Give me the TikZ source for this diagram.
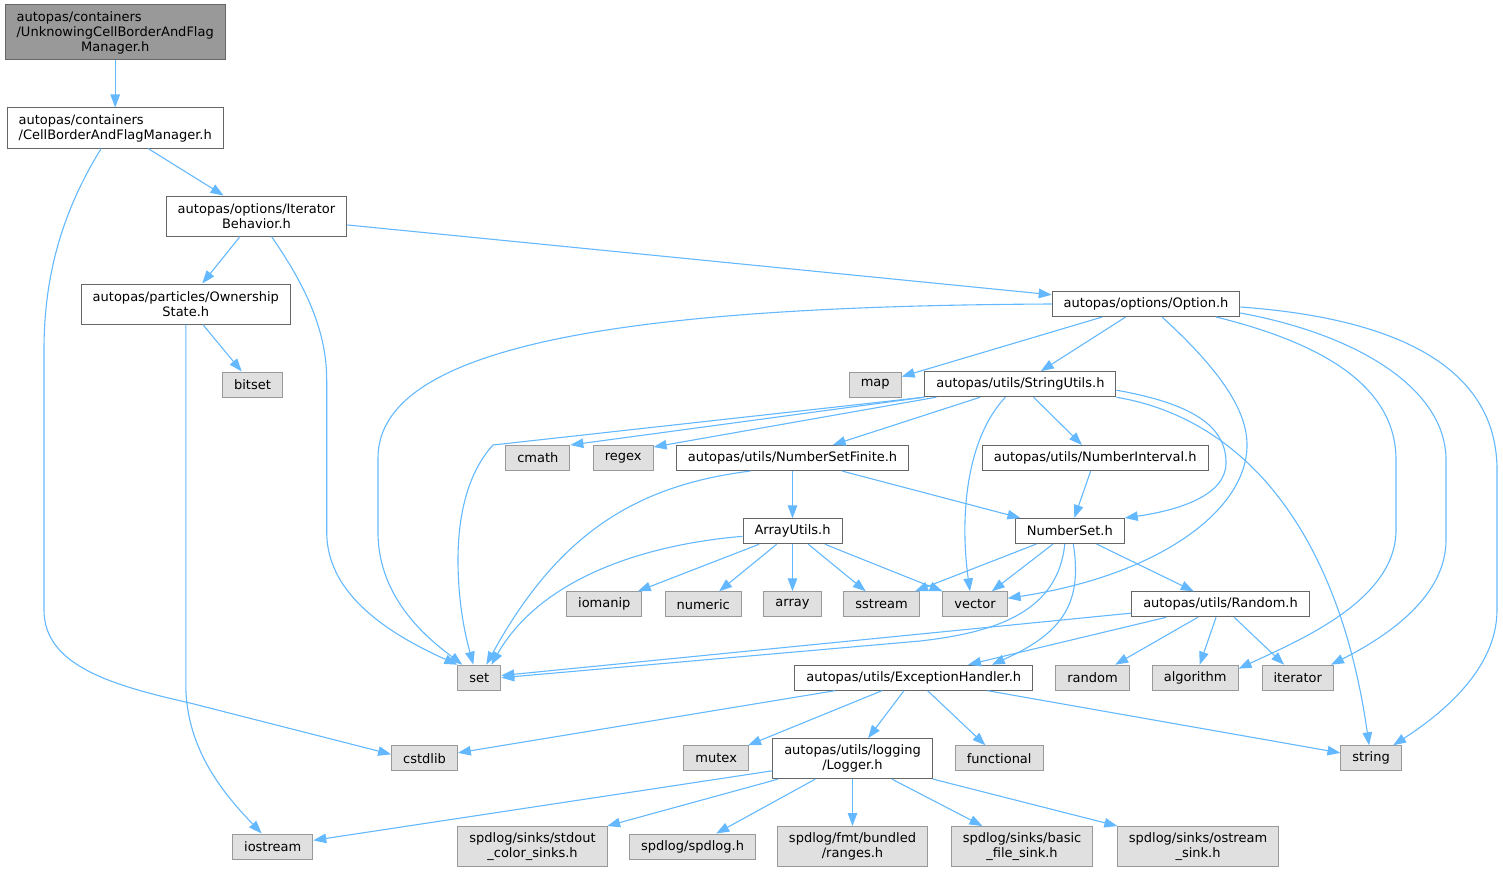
\documentclass[tikz,border=0pt]{standalone}
\usepackage{fontspec}
\setmainfont{DejaVu Sans}
\usetikzlibrary{arrows.meta}

\definecolor{edgeblue}{HTML}{63B8FF}
\definecolor{boxline}{HTML}{666666}
\definecolor{sysline}{HTML}{999999}
\definecolor{sysfill}{HTML}{E0E0E0}
\definecolor{curfill}{HTML}{999999}

\tikzset{
  hdr/.style={draw=boxline, fill=white, line width=1pt, inner xsep=11.5pt, inner ysep=0pt,
    minimum height=25pt, font=\fontsize{13}{15}\selectfont},
  hdr2/.style={hdr, minimum height=40pt, align=center},
  sys/.style={hdr, draw=sysline, fill=sysfill},
  sys2/.style={sys, minimum height=40pt, align=center},
  dep/.style={draw=edgeblue, line width=1.1pt, -{Triangle[length=13pt,width=9.5pt]}}
}

\begin{document}
\begin{tikzpicture}[x=1pt,y=-1pt]
\useasboundingbox (0,0) rectangle (1503,872);
\node[hdr, fill=curfill, minimum height=55pt, align=left] (top) at (115.2,32.5) {autopas/containers\\/UnknowingCellBorderAndFlag\\\hspace*{\fill}Manager.h\hspace*{\fill}};
\node[hdr2, align=left] (cbafm) at (115.2,128) {autopas/containers\\/CellBorderAndFlagManager.h};
\node[hdr2] (iterb) at (256.5,216) {autopas/options/Iterator\\Behavior.h};
\node[hdr2] (owner) at (185.8,304) {autopas/particles/Ownership\\State.h};
\node[hdr] (option) at (1146,304) {autopas/options/Option.h};
\node[sys] (bitset) at (252.5,384.5) {bitset};
\node[sys] (map) at (875.2,384.5) {map};
\node[hdr] (strutils) at (1020.4,384.2) {autopas/utils/StringUtils.h};
\node[sys] (cmath) at (537.8,458) {cmath};
\node[sys] (regex) at (623.2,458) {regex};
\node[hdr] (nsf) at (792.5,458) {autopas/utils/NumberSetFinite.h};
\node[hdr] (numint) at (1095.2,458) {autopas/utils/NumberInterval.h};
\node[hdr] (arrutils) at (792.5,531.3) {ArrayUtils.h};
\node[hdr] (numset) at (1069.8,531) {NumberSet.h};
\node[sys] (iomanip) at (604.3,604.3) {iomanip};
\node[sys] (numeric) at (703.2,604.3) {numeric};
\node[sys] (array) at (792.5,604.3) {array};
\node[sys] (sstream) at (881.6,604.3) {sstream};
\node[sys] (vector) at (975,604.3) {vector};
\node[hdr] (rnd) at (1220.5,604.3) {autopas/utils/Random.h};
\node[sys] (set) at (479.3,677.7) {set};
\node[hdr] (exch) at (913.8,677.7) {autopas/utils/ExceptionHandler.h};
\node[sys] (random) at (1092.5,677.7) {random};
\node[sys] (algorithm) at (1195.2,677.7) {algorithm};
\node[sys] (iterator) at (1297.8,677.7) {iterator};
\node[sys] (cstdlib) at (424.5,758.3) {cstdlib};
\node[sys] (mutex) at (716.2,758.3) {mutex};
\node[hdr2] (logger) at (852.5,758.7) {autopas/utils/logging\\/Logger.h};
\node[sys] (functional) at (999.2,758.3) {functional};
\node[sys] (string) at (1371.1,758.3) {string};
\node[sys] (iostream) at (272.7,846.5) {iostream};
\node[sys2] (stdout) at (532.5,846.5) {spdlog/sinks/stdout\\\_color\_sinks.h};
\node[sys] (spdlog) at (692.5,846.5) {spdlog/spdlog.h};
\node[sys2] (ranges) at (852.5,846.5) {spdlog/fmt/bundled\\/ranges.h};
\node[sys2] (basicsink) at (1022,846.5) {spdlog/sinks/basic\\\_file\_sink.h};
\node[sys2] (ostreamsink) at (1198,846.5) {spdlog/sinks/ostream\\\_sink.h};

\foreach \a/\b in {top/cbafm, cbafm/iterb, iterb/owner, iterb/option, owner/bitset,
  option/map, option/strutils, strutils/nsf, strutils/numint, nsf/arrutils, nsf/numset,
  numint/numset, arrutils/iomanip, arrutils/numeric, arrutils/array, arrutils/sstream,
  arrutils/vector, numset/sstream, numset/vector, numset/rnd, rnd/set, rnd/exch,
  rnd/random, rnd/algorithm, rnd/iterator, exch/cstdlib, exch/mutex, exch/logger,
  exch/functional, exch/string, logger/iostream, logger/stdout, logger/spdlog,
  logger/ranges, logger/basicsink, logger/ostreamsink}
{
	\draw[dep] (\a) -- (\b);
}
\draw[dep] (strutils.south west) -- (cmath.north east);
\draw[dep] ([xshift=12pt]strutils.south west) -- ([yshift=-2pt]regex.north east);

%left side
\draw[dep] ([xshift=-14pt]cbafm.south) .. controls (60,215) and (44,280) .. (44,350) -- (44,610) .. controls (44,665) and (110,685) .. (190,703) -- ([yshift=4pt]cstdlib.west);
\draw[dep] (owner.south) -- (185.8,684) .. controls (185.8,750) and (225,795) .. ([xshift=-11pt]iostream.north);
\draw[dep] ([xshift=15pt]iterb.south) .. controls (305,285) and (326.7,330) .. (326.7,380) -- (326.7,532) .. controls (326.7,590) and (380,630) .. (set.north west);
\draw[dep] (option.west) .. controls (650,306) and (378,340) .. (378,458) -- (378,532) .. controls (378,600) and (430,640) .. ([xshift=-17pt]set.north);
\draw[dep] (strutils.south west) -- (493,445) .. controls (470,470) and (458,510) .. (458,560) .. controls (458,610) and (468,645) .. ([xshift=-6pt]set.north);
\draw[dep] ([xshift=-42pt]nsf.south) .. controls (640,485) and (560,530) .. ([xshift=7pt]set.north);
\draw[dep] ([yshift=-5pt]arrutils.west) .. controls (640,545) and (540,580) .. ([xshift=12pt]set.north);
\draw[dep] ([xshift=-5pt]numset.south) .. controls (1058,610) and (1000,632) .. (920,641) -- (set.east);
\draw[dep] ([xshift=3.5pt]numset.south) .. controls (1082,600) and (1066,632) .. ([xshift=78pt]exch.north);
\draw[dep] ([xshift=-15pt]strutils.south) .. controls (965,440) and (960,520) .. ([xshift=-5pt]vector.north);

%right side
\draw[dep] ([xshift=16pt]option.south) .. controls (1220,370) and (1247,410) .. (1247,445) .. controls (1247,510) and (1160,575) .. ([yshift=6pt]vector.east);
\draw[dep] ([xshift=70pt]option.south) .. controls (1330,345) and (1396,390) .. (1396,460) -- (1396,530) .. controls (1396,600) and (1300,640) .. ([yshift=9pt]algorithm.east);
\draw[dep] ([yshift=-9pt]option.east) .. controls (1360,335) and (1446,390) .. (1446,460) -- (1446,540) .. controls (1446,600) and (1380,640) .. ([xshift=-3pt]iterator.north east);
\draw[dep] ([yshift=-3pt]option.east) .. controls (1420,320) and (1497,380) .. (1497,470) -- (1497,610) .. controls (1497,670) and (1440,715) .. ([xshift=22pt]string.north);
\draw[dep] ([yshift=-6pt]strutils.east) .. controls (1200,405) and (1226,430) .. (1226,463) .. controls (1226,495) and (1180,510) .. (numset.north east);
\draw[dep] (strutils.south east) .. controls (1250,420) and (1340,540) .. ([xshift=-2pt]string.north);
\end{tikzpicture}
\end{document}
